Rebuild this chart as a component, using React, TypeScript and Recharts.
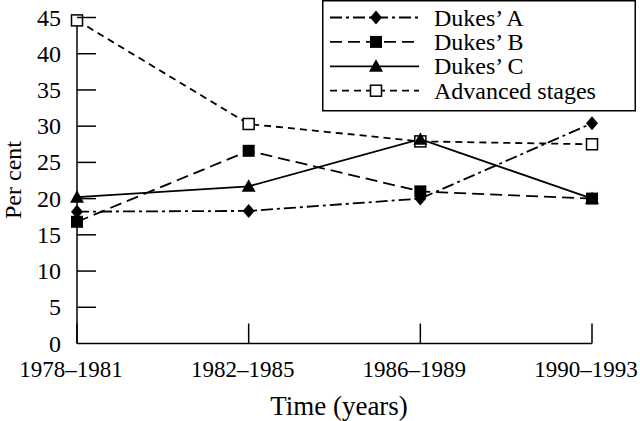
import React from 'react';
import { LineChart, Line, XAxis, YAxis, Legend } from 'recharts';

const periods = ['1978–1981', '1982–1985', '1986–1989', '1990–1993'];
const dukesA = [18.2, 18.3, 20.0, 30.4];
const dukesB = [16.8, 26.6, 21.0, 20.0];
const dukesC = [20.2, 21.7, 28.2, 20.0];
const advanced = [44.6, 30.3, 27.9, 27.5];
const yTicks = [0, 5, 10, 15, 20, 25, 30, 35, 40, 45];

const data = periods.map((period, i) => ({
  period,
  a: dukesA[i],
  b: dukesB[i],
  c: dukesC[i],
  adv: advanced[i],
}));

const FONT = '"Liberation Serif", "Times New Roman", serif';

type Shape = 'diamond' | 'square' | 'triangle' | 'open';

const series: { key: string; name: string; dash?: string; shape: Shape }[] = [
  { key: 'a', name: 'Dukes’ A', dash: '12 4 3 4', shape: 'diamond' },
  { key: 'b', name: 'Dukes’ B', dash: '12 6', shape: 'square' },
  { key: 'c', name: 'Dukes’ C', shape: 'triangle' },
  { key: 'adv', name: 'Advanced stages', dash: '7 5', shape: 'open' },
];

// draw order: advanced, A, C, B (B squares sit on top)
const drawOrder = ['adv', 'a', 'c', 'b'];

const Marker = ({ shape, cx, cy }: { shape: Shape; cx: number; cy: number }) => {
  if (shape === 'diamond') {
    return <polygon points={`${cx},${cy - 7} ${cx + 6},${cy} ${cx},${cy + 7} ${cx - 6},${cy}`} fill="#000" />;
  }
  if (shape === 'square') {
    return <rect x={cx - 6} y={cy - 6} width={12} height={12} fill="#000" />;
  }
  if (shape === 'triangle') {
    return <polygon points={`${cx},${cy - 7} ${cx + 7},${cy + 5.5} ${cx - 7},${cy + 5.5}`} fill="#000" />;
  }
  return <rect x={cx - 5.5} y={cy - 5.5} width={11} height={11} fill="#fff" stroke="#000" strokeWidth={1.5} />;
};

const dotFor = (shape: Shape) => (props: any) => (
  <Marker key={`${shape}-${props.index}`} shape={shape} cx={props.cx} cy={props.cy} />
);

const XTick = (props: any) => {
  const { x, y, payload } = props;
  return (
    <g>
      <line x1={x} x2={x} y1={y} y2={y - 20} stroke="#000" strokeWidth={1.5} />
      <text x={x - 6} y={y + 33} textAnchor="middle" fontSize={23} fontFamily={FONT} fill="#000">
        {payload.value}
      </text>
    </g>
  );
};

const YTick = (props: any) => {
  const { x, y, payload } = props;
  return (
    <g>
      {payload.value !== 0 && <line x1={x} x2={x + 19} y1={y} y2={y} stroke="#000" strokeWidth={1.5} />}
      <text x={x - 16} y={y + 8} textAnchor="end" fontSize={24} fontFamily={FONT} fill="#000">
        {payload.value}
      </text>
    </g>
  );
};

const XTitle = () => (
  <text x={339} y={415} textAnchor="middle" fontSize={27} fontFamily={FONT} fill="#000">
    Time (years)
  </text>
);

const YTitle = () => (
  <text x={21} y={180} transform="rotate(-90 21 180)" textAnchor="middle" fontSize={24} fontFamily={FONT} fill="#000">
    Per cent
  </text>
);

const LegendBox = () => (
  <svg width={316} height={114} style={{ display: 'block' }}>
    <rect x={0.75} y={0.75} width={312.5} height={110} fill="#fff" stroke="#000" strokeWidth={1.5} />
    {series.map((s, i) => {
      const cy = 17.5 + i * 24.4;
      return (
        <g key={s.key}>
          <line x1={8} x2={97} y1={cy} y2={cy} stroke="#000" strokeWidth={1.8} strokeDasharray={s.dash} />
          <Marker shape={s.shape} cx={54} cy={cy} />
          <text x={112} y={cy + 8} fontSize={24} fontFamily={FONT} fill="#000">
            {s.name}
          </text>
        </g>
      );
    })}
  </svg>
);

export default function App() {
  return (
    <div style={{ position: 'absolute', left: 0, top: 0, width: 640, height: 421, background: '#fff' }}>
      <LineChart width={640} height={421} data={data} margin={{ top: 17.5, right: 48, bottom: 17.5, left: 0 }}>
        <XAxis
          dataKey="period"
          type="category"
          interval={0}
          padding={{ left: 0, right: 0 }}
          height={60}
          tickSize={0}
          tickMargin={0}
          tickLine={false}
          axisLine={{ stroke: '#000', strokeWidth: 1.5 }}
          tick={<XTick />}
          label={<XTitle />}
        />
        <YAxis
          domain={[0, 45]}
          ticks={yTicks}
          interval={0}
          width={77}
          tickSize={0}
          tickMargin={0}
          tickLine={false}
          axisLine={{ stroke: '#000', strokeWidth: 1.5 }}
          tick={<YTick />}
          label={<YTitle />}
        />
        <Legend
          layout="vertical"
          align="center"
          verticalAlign="middle"
          wrapperStyle={{ top: 0, left: 322, width: 316, height: 114 }}
          content={() => <LegendBox />}
        />
        {drawOrder.map((k) => {
          const s = series.find((x) => x.key === k)!;
          return (
            <Line
              key={s.key}
              dataKey={s.key}
              name={s.name}
              stroke="#000"
              strokeWidth={1.8}
              strokeDasharray={s.dash}
              dot={dotFor(s.shape)}
              activeDot={false}
              isAnimationActive={false}
            />
          );
        })}
      </LineChart>
    </div>
  );
}
